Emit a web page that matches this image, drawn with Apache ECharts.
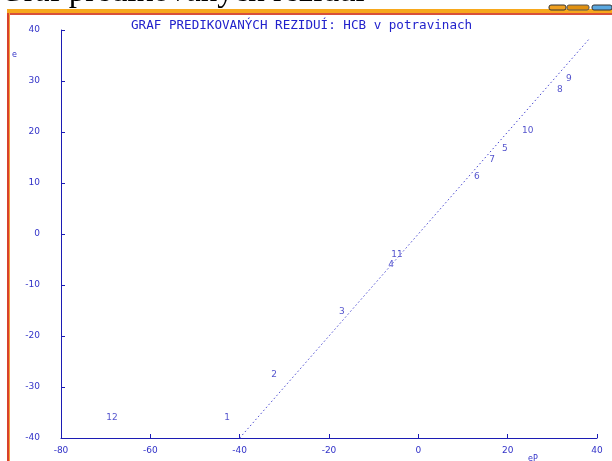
<!DOCTYPE html>
<html>
<head>
<meta charset="utf-8">
<script src="https://cdn.jsdelivr.net/npm/echarts@6/dist/echarts.min.js"></script>
<style>
html,body{margin:0;padding:0;background:#fff;}
#chart{width:612px;height:461px;}
</style>
</head>
<body>
<div id="chart"></div>
<script>
// Case numbers, predicted residuals (eP) and residuals (e)
const caseIds = ['1','2','3','4','5','6','7','8','9','10','11','12'];
const predicted = [-42.8, -32.3, -17.1, -6.1, 19.4, 13.1, 16.5, 31.7, 33.7, 24.5, -4.8, -68.6];
const residuals = [-36.1, -27.6, -15.3, -6.1, 16.7, 11.2, 14.5, 28.4, 30.4, 20.2, -4.1, -36.1];
// Reference line e = eP
const refLineX = [-40, 38.4];
const xTicks = [-80, -60, -40, -20, 0, 20, 40];
const yTicks = [-40, -30, -20, -10, 0, 10, 20, 30, 40];

const blue = '#1c1cb4';
const labelBlue = '#3232c8';

const points = caseIds.map((id, i) => ({ name: id, value: [predicted[i], residuals[i]] }));
const lineData = refLineX.map(v => [v, v]);

const chart = echarts.init(document.getElementById('chart'), null, { renderer: 'canvas' });
chart.setOption({
  animation: false,
  backgroundColor: '#ffffff',
  grid: { left: 61, right: 15, top: 30, bottom: 23, containLabel: false },
  graphic: [
    // window frame pieces
    { type: 'rect', shape: { x: 7, y: 9, width: 605, height: 5 }, style: { fill: '#f7a81c' }, silent: true },
    { type: 'rect', shape: { x: 7, y: 13, width: 605, height: 2 }, style: { fill: '#d8503a' }, silent: true },
    { type: 'rect', shape: { x: 7, y: 13, width: 2, height: 448 }, style: { fill: '#d8402a' }, silent: true },
    { type: 'rect', shape: { x: 9, y: 13, width: 1, height: 448 }, style: { fill: '#f2a040' }, silent: true },
    { type: 'rect', shape: { x: 549, y: 5, width: 17, height: 5, r: 2 }, style: { fill: '#f0a020', stroke: '#333', lineWidth: 1 }, silent: true },
    { type: 'rect', shape: { x: 567, y: 5, width: 22, height: 5, r: 2 }, style: { fill: '#e09010', stroke: '#555', lineWidth: 1 }, silent: true },
    { type: 'rect', shape: { x: 592, y: 5, width: 20, height: 5, r: 2 }, style: { fill: '#5aa8e0', stroke: '#333', lineWidth: 1 }, silent: true },
    { type: 'text', x: 0, y: -24, style: { text: 'Graf predikovaných reziduí', fontFamily: 'Liberation Serif', fontSize: 33, fill: '#000' }, silent: true },
    // chart heading
    { type: 'text', x: 131, y: 19, style: { text: 'GRAF PREDIKOVANÝCH REZIDUÍ: HCB v potravinach', fontFamily: 'DejaVu Sans Mono', fontSize: 12.6, fill: '#2222cc' }, silent: true },
    // axis names
    { type: 'text', x: 12, y: 51, style: { text: 'e', fontFamily: 'DejaVu Sans', fontSize: 8, fill: labelBlue }, silent: true },
    { type: 'text', x: 528, y: 455, style: { text: 'eP', fontFamily: 'DejaVu Sans', fontSize: 8, fill: labelBlue }, silent: true }
  ],
  xAxis: {
    type: 'value', min: xTicks[0], max: xTicks[xTicks.length - 1], interval: 20,
    axisLine: { onZero: false, lineStyle: { color: blue, width: 1 } },
    axisTick: { inside: true, length: 4, lineStyle: { color: blue } },
    axisLabel: { fontFamily: 'DejaVu Sans', fontSize: 9, color: labelBlue, margin: 8 },
    splitLine: { show: false }
  },
  yAxis: {
    type: 'value', min: yTicks[0], max: yTicks[yTicks.length - 1], interval: 10,
    axisLine: { show: true, onZero: false, lineStyle: { color: blue, width: 1 } },
    axisTick: { show: true, inside: true, length: 4, lineStyle: { color: blue } },
    axisLabel: { fontFamily: 'DejaVu Sans', fontSize: 9, color: labelBlue, margin: 21 },
    splitLine: { show: false }
  },
  series: [
    {
      type: 'line', data: lineData, symbol: 'none', silent: true,
      lineStyle: { color: '#4a4ad0', width: 1, type: [1.5, 2.5] }
    },
    {
      type: 'scatter', data: points, symbolSize: 1,
      itemStyle: { color: 'rgba(0,0,0,0)' },
      label: {
        show: true, position: 'inside', formatter: p => p.name,
        fontFamily: 'DejaVu Sans', fontSize: 9, color: '#2828c0'
      }
    }
  ]
});
</script>
</body>
</html>
